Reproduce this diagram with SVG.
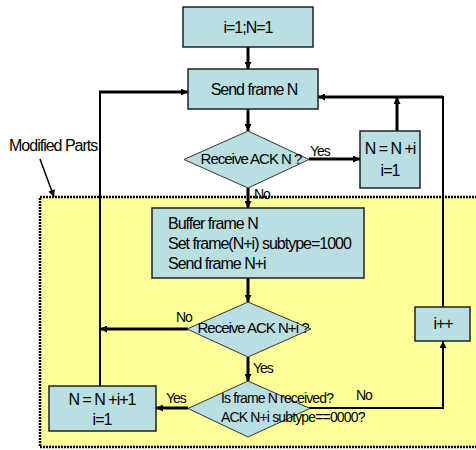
<svg xmlns="http://www.w3.org/2000/svg" width="476" height="450" viewBox="0 0 476 450">
<style>
.box{fill:#B9DFE3;stroke:#222;stroke-width:1.5}
.dia{fill:#B9DFE3;stroke:#333;stroke-width:1}
.t{font-family:"Liberation Sans",Arial,sans-serif;font-size:16px;letter-spacing:-1px;fill:#000}
.s{font-family:"Liberation Sans",Arial,sans-serif;font-size:15px;letter-spacing:-1px;fill:#000}
.q{font-family:"Liberation Sans",Arial,sans-serif;font-size:14px;letter-spacing:-0.85px;fill:#000}
.l{font-family:"Liberation Sans",Arial,sans-serif;font-size:14px;letter-spacing:-1px;fill:#000}
.c{text-anchor:middle}
.w3{fill:none;stroke:#000;stroke-width:3}
.w2{fill:none;stroke:#000;stroke-width:2}
.w1{fill:none;stroke:#000;stroke-width:1.5}
</style>
<defs>
<marker id="ah" viewBox="0 0 10 10" refX="10" refY="5" markerWidth="8" markerHeight="7" markerUnits="userSpaceOnUse" orient="auto">
<path d="M0,0 L10,5 L0,10 z" fill="#000"/>
</marker>
</defs>
<rect id="region" x="40" y="197" width="440" height="250" fill="#FFFF99" stroke="#000" stroke-width="2.5" stroke-dasharray="2 1"/>
<text class="t" x="9" y="151">Modified Parts</text>
<g id="connectors">
<line class="w1" x1="40" y1="159" x2="54" y2="197" marker-end="url(#ah)"/>
<line class="w3" x1="248" y1="47" x2="248" y2="69" marker-end="url(#ah)"/>
<line class="w3" x1="248" y1="109" x2="248" y2="131" marker-end="url(#ah)"/>
<line class="w3" x1="248" y1="188" x2="248" y2="208" marker-end="url(#ah)"/>
<line class="w3" x1="248" y1="278" x2="248" y2="302" marker-end="url(#ah)"/>
<line class="w3" x1="248" y1="357" x2="248" y2="381" marker-end="url(#ah)"/>
<line class="w3" x1="309" y1="159" x2="360" y2="159" marker-end="url(#ah)"/>
<line class="w3" x1="397" y1="131" x2="397" y2="97" marker-end="url(#ah)"/>
<polyline class="w3" points="443,97 318,97" marker-end="url(#ah)"/>
<line class="w2" x1="443" y1="96" x2="443" y2="307"/>
<polyline class="w2" points="100,386 100,92"/>
<line class="w3" x1="99" y1="92" x2="188" y2="92" marker-end="url(#ah)"/>
<line class="w3" x1="188" y1="329" x2="100" y2="329" marker-end="url(#ah)"/>
<line class="w3" x1="188" y1="408" x2="156" y2="408" marker-end="url(#ah)"/>
<polyline class="w2" points="309,408 443,408 443,341" marker-end="url(#ah)"/>
<text class="l" x="310" y="156">Yes</text>
<text class="l" x="254" y="199">No</text>
<text class="l" x="176" y="322">No</text>
<text class="l" x="253" y="373">Yes</text>
<text class="l" x="166" y="403">Yes</text>
<text class="l" x="356" y="400">No</text>
</g>
<g id="init">
<rect class="box" x="183" y="7" width="130" height="40"/>
<text class="t c" x="248" y="33">i=1;N=1</text>
</g>
<g id="send">
<rect class="box" x="188" y="69" width="130" height="40"/>
<text class="t c" x="254" y="95">Send frame N</text>
</g>
<g id="ackN">
<polygon class="dia" points="248,131 309,159.5 248,188 184,159.5"/>
<text class="s c" x="251" y="164">Receive ACK N ?</text>
</g>
<g id="incN">
<rect class="box" x="360" y="131" width="60" height="57"/>
<text class="t c" x="390" y="154">N = N +i</text>
<text class="t c" x="390" y="176">i=1</text>
</g>
<g id="buffer">
<rect class="box" x="152" y="208" width="212" height="70"/>
<text class="t" x="168" y="229">Buffer frame N</text>
<text class="t" x="168" y="249">Set frame(N+i) subtype=1000</text>
<text class="t" x="168" y="269">Send frame N+i</text>
</g>
<g id="ackNi">
<polygon class="dia" points="248,302 311,329 248,357 187,329"/>
<text class="s c" x="253" y="333">Receive ACK N+i ?</text>
</g>
<g id="received">
<polygon class="dia" points="248,381 310,408.5 248,437 188,408.5"/>
<text class="q" x="221" y="403">Is frame N received?</text>
<text class="q" x="221" y="422">ACK N+i subtype==0000?</text>
</g>
<g id="incN2">
<rect class="box" x="49" y="386" width="107" height="45"/>
<text class="t c" x="102" y="405">N = N +i+1</text>
<text class="t c" x="102" y="425">i=1</text>
</g>
<g id="incI">
<rect class="box" x="415" y="307" width="55" height="34"/>
<text class="t c" x="443" y="329">i++</text>
</g>
</svg>
